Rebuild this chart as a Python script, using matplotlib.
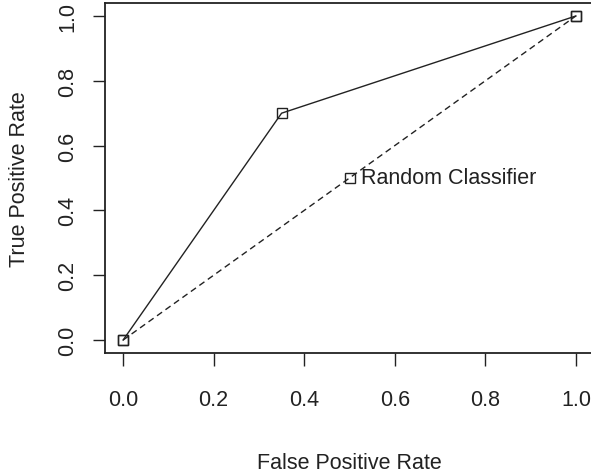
import numpy as np
import matplotlib.pyplot as plt

# ROC points
fpr = [0.0, 0.35, 1.0]
tpr = [0.0, 0.7, 1.0]
rand_fpr = [0.0, 0.5, 1.0]
rand_tpr = [0.0, 0.5, 1.0]
ticks = [0.0, 0.2, 0.4, 0.6, 0.8, 1.0]
tick_labels = ['0.0', '0.2', '0.4', '0.6', '0.8', '1.0']

fonts = ['Liberation Sans Narrow', 'Liberation Sans', 'DejaVu Sans']
plt.rcParams['font.family'] = fonts
ink = '#222222'
fs = 15.5

fig = plt.figure(figsize=(5.91, 4.77), dpi=100)
ax = fig.add_axes([105 / 591, 123 / 477, 489 / 591, 350 / 477])

ax.plot(fpr, tpr, color=ink, lw=1.0, marker='s', ms=7, mfc='none', mec=ink, mew=1.0)
ax.plot(rand_fpr, rand_tpr, color=ink, lw=1.0, ls=(0, (4.5, 3)),
        marker='s', ms=7, mfc='none', mec=ink, mew=1.0)
ax.text(rand_fpr[1] + 0.025, rand_tpr[1], 'Random Classifier', fontsize=fs,
        color=ink, ha='left', va='center')

ax.set_xlim(-0.04, 1.04)
ax.set_ylim(-0.04, 1.04)
ax.set_xticks(ticks)
ax.set_xticklabels(tick_labels)
ax.set_yticks(ticks)
ax.set_yticklabels(tick_labels, rotation=90, va='center')
ax.tick_params(direction='out', length=9, width=1.0, colors=ink, labelsize=fs)
ax.tick_params(axis='x', pad=17)
ax.tick_params(axis='y', pad=10)
for s in ax.spines.values():
    s.set_linewidth(1.3)
    s.set_color(ink)

ax.set_xlabel('False Positive Rate', fontsize=fs, color=ink, va='center')
ax.xaxis.set_label_coords(0.5, (13 - 123) / 350)
ax.set_ylabel('True Positive Rate', fontsize=fs, color=ink, va='center')
ax.yaxis.set_label_coords((20 - 105) / 489, 0.5)

fig.savefig('out.png', dpi=100)
